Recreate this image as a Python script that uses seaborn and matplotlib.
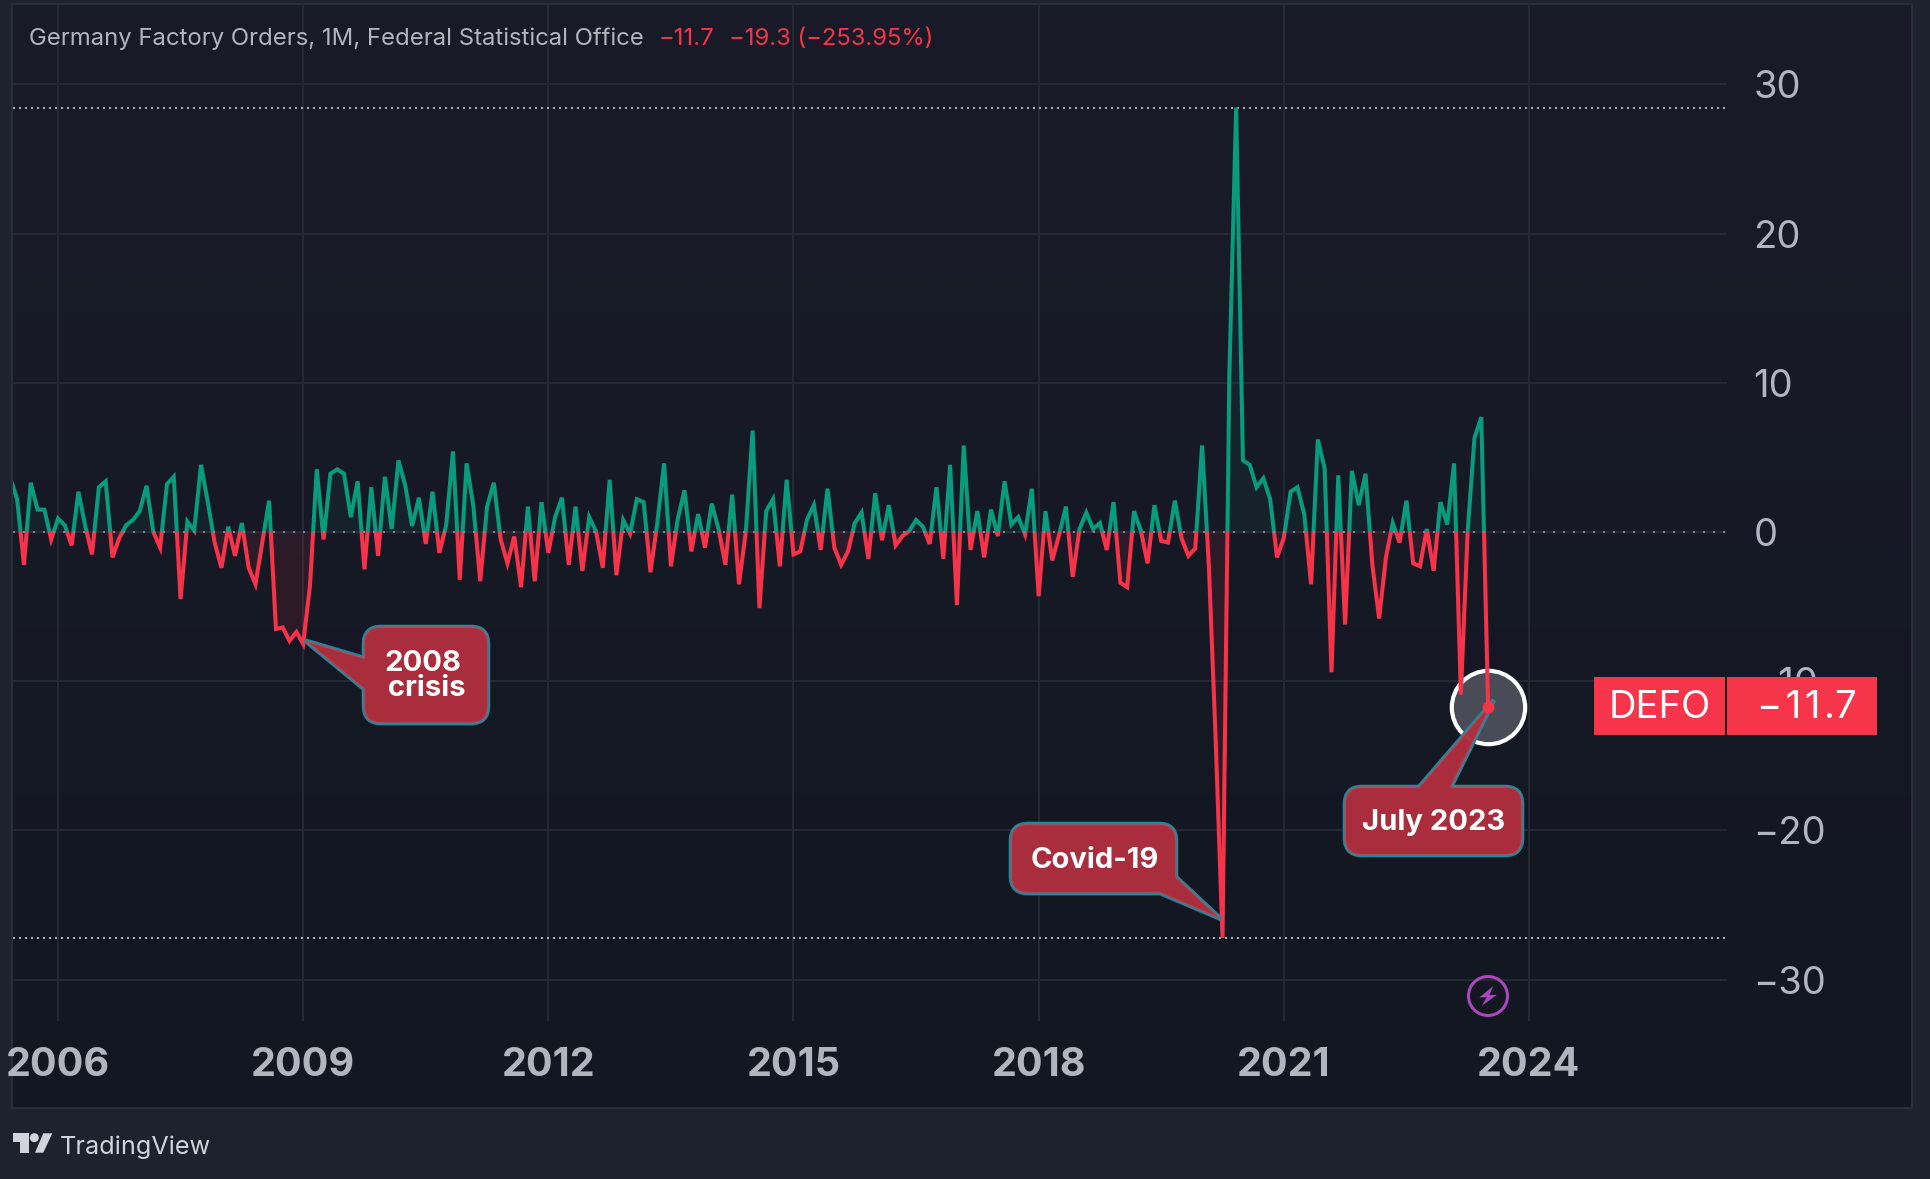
import numpy as np
import pandas as pd
import matplotlib
matplotlib.use("Agg")
import matplotlib.pyplot as plt
import seaborn as sns
from matplotlib.patches import Rectangle, Circle, PathPatch, Polygon
from matplotlib.path import Path
from matplotlib.transforms import Affine2D

W, H = 1931, 1179
sns.set_theme(style="dark")
plt.rcParams["font.family"] = ["Inter", "DejaVu Sans"]
plt.rcParams["lines.scale_dashes"] = False
plt.rcParams["axes.unicode_minus"] = True

# ---------- data (monthly, first value is Jun 2005) ----------
first_month = -7  # months relative to Jan 2006
values_2005 = [3.6, 2.2, -2.2, 3.3, 1.5, 1.5, -0.5]
values_2006 = [0.9, 0.45, -0.9, 2.7, 0.4, -1.5, 3.0, 3.4, -1.7, -0.4, 0.45, 0.8]
values_2007 = [1.4, 3.1, 0.0, -1.05, 3.2, 3.7, -4.5, 0.7, 0.1, 4.5, 2.0, -0.7]
values_2008 = [-2.4, 0.35, -1.6, 0.6, -2.4, -3.5, -0.7, 2.1, -6.5, -6.4, -7.3, -6.7]
values_2009 = [-7.5, -3.6, 4.2, -0.5, 3.9, 4.2, 3.9, 1.0, 3.4, -2.5, 3.0, -1.6]
values_2010 = [3.7, 0.2, 4.8, 3.1, 0.4, 2.3, -0.8, 2.7, -1.4, 0.45, 5.4, -3.2]
values_2011 = [4.6, 1.7, -3.3, 1.7, 3.3, -0.5, -2.1, -0.3, -3.7, 1.7, -3.3, 2.0]
values_2012 = [-1.4, 1.0, 2.3, -2.2, 1.7, -2.6, 1.0, 0.05, -2.4, 3.5, -2.9, 0.8]
values_2013 = [-0.1, 2.2, 2.0, -2.7, 0.6, 4.6, -2.3, 0.85, 2.8, -1.3, 1.2, -1.05]
values_2014 = [1.9, 0.2, -2.2, 2.5, -3.5, 0.0, 6.8, -5.1, 1.4, 2.2, -2.3, 3.5]
values_2015 = [-1.5, -1.3, 0.85, 1.8, -1.2, 2.9, -1.05, -2.2, -1.3, 0.6, 1.3, -1.8]
values_2016 = [2.6, -0.55, 1.8, -0.9, -0.27, 0.07, 0.8, 0.36, -0.8, 3.0, -1.8, 4.5]
values_2017 = [-4.9, 5.8, -1.2, 1.4, -1.7, 1.5, -0.27, 3.4, 0.5, 1.0, -0.15, 2.9]
values_2018 = [-4.3, 1.4, -1.9, -0.2, 1.7, -3.0, 0.2, 1.3, 0.2, 0.6, -1.2, 2.0]
values_2019 = [-3.4, -3.7, 1.4, 0.1, -2.1, 1.8, -0.6, -0.7, 2.1, -0.45, -1.6, -1.1]
values_2020 = [5.8, -2.3, -14.0, -27.2, 10.4, 28.45, 4.8, 4.5, 3.0, 3.6, 2.2, -1.7]
values_2021 = [-0.4, 2.7, 3.0, 1.2, -3.5, 6.2, 4.25, -9.4, 3.8, -6.2, 4.1, 1.8]
values_2022 = [3.9, -2.2, -5.8, -1.7, 0.6, -0.7, 2.1, -2.1, -2.3, 0.2, -2.6, 2.0]
values_2023 = [0.5, 4.6, -10.9, 0.05, 6.3, 7.7, -11.7]
year_ticks = [2006, 2009, 2012, 2015, 2018, 2021, 2024]
y_ticks = [-30, -20, -10, 0, 10, 20, 30]

values = (values_2005 + values_2006 + values_2007 + values_2008 + values_2009 +
          values_2010 + values_2011 + values_2012 + values_2013 + values_2014 +
          values_2015 + values_2016 + values_2017 + values_2018 + values_2019 +
          values_2020 + values_2021 + values_2022 + values_2023)
months = np.arange(len(values)) + first_month
df = pd.DataFrame({"month": months, "value": values})
last = df.iloc[-1]

# ---------- colours ----------
OUTER = "#1e222d"
RIM = "#2a2e39"
GRID = "#242833"
TXT = "#b2b5be"
RED = "#f7334a"
GREEN = "#099b7e"
TEAL = "#0c91a3"
BUBBLE = "#af2e3d"

fig = plt.figure(figsize=(W / 100, H / 100), dpi=100, facecolor=OUTER)
PX = Affine2D().scale(1, -1).translate(0, H)   # annotation layer in image pixels

# pane background with its faint vertical gradient
bg = fig.add_axes([12 / W, 1 - 1108 / H, 1900 / W, 1104 / H], zorder=0)
grad = np.array([[0x19, 0x1c, 0x28], [0x13, 0x17, 0x22]], dtype=float) / 255
bg.imshow(grad[:, None, :], aspect="auto", interpolation="bicubic", extent=[0, 1, 0, 1])
bg.set_xticks([]); bg.set_yticks([])
for s in bg.spines.values():
    s.set_color(RIM); s.set_linewidth(1.5)

# main axes
ax = fig.add_axes([13 / W, 1 - 1021 / H, (1727 - 13) / W, (1021 - 5) / H], zorder=1)
ax.patch.set_alpha(0)
x_left, x_right = (13 - 58) / 6.81, (1727 - 58) / 6.81
y_top, y_bottom = (532 - 5) / 14.92, -(1021 - 532) / 14.92
ax.set_xlim(x_left, x_right)
ax.set_ylim(y_bottom, y_top)

ax.set_xticks([(y - 2006) * 12 for y in year_ticks])
ax.set_xticklabels([str(y) for y in year_ticks], fontsize=28.5, fontweight="bold", color=TXT)
ax.set_yticks(y_ticks)
ax.set_yticklabels([str(t).replace("-", "\u2212") for t in y_ticks], fontsize=27.5, color=TXT)
ax.yaxis.tick_right()
ax.tick_params(axis="x", length=0, pad=19)
ax.tick_params(axis="y", length=0, pad=19)
ax.grid(True, color=GRID, linewidth=1.5)
ax.set_axisbelow(True)
for s in ax.spines.values():
    s.set_visible(False)

# baseline series: one line, split at zero through clip rectangles
clip_up = Rectangle((x_left, 0), x_right - x_left, y_top, transform=ax.transData)
clip_dn = Rectangle((x_left, y_bottom), x_right - x_left, -y_bottom, transform=ax.transData)

for colour, clip, alpha in [(GREEN, clip_up, 0.075), (RED, clip_dn, 0.10)]:
    band = ax.fill_between(df["month"], df["value"], 0, color=colour, alpha=alpha, linewidth=0, zorder=2)
    band.set_clip_path(clip)
    n = len(ax.lines)
    sns.lineplot(data=df, x="month", y="value", ax=ax, color=colour, linewidth=2.9,
                 estimator=None, sort=False, zorder=3)
    ln = ax.lines[n]
    ln.set_solid_joinstyle("miter")
    ln.set_solid_capstyle("butt")
    ln.set_clip_path(clip)
ax.set_xlabel(""); ax.set_ylabel("")

# dotted reference lines: zero, series high, series low
ax.axhline(0, color="#7d8494", linewidth=1.5, linestyle=(0, (1.44, 5.76)), zorder=4)
for level in (max(values), min(values)):
    ax.axhline(level, color="#a9adb8", linewidth=1.5, linestyle=(0, (1.44, 2.88)), zorder=2.6)

# highlighted last point
ax.scatter([last["month"]], [last["value"]], s=2 * (39 * 0.72) ** 2 * 1.77, facecolor="#494c56",
           edgecolor="white", linewidth=3, zorder=2.4, clip_on=False)
ax.scatter([last["month"]], [last["value"]], s=(12 * 0.72) ** 2, color=RED, linewidth=0, zorder=8)


def bubble(points, z=6):
    verts, codes = [], []
    n = len(points)
    for i, (x, y, r) in enumerate(points):
        if r == 0:
            verts.append((x, y)); codes.append(Path.MOVETO if i == 0 else Path.LINETO)
            continue
        px, py, _ = points[i - 1]
        nx, ny, _ = points[(i + 1) % n]
        d0 = np.hypot(px - x, py - y); d1 = np.hypot(nx - x, ny - y)
        a = (x + (px - x) * r / d0, y + (py - y) * r / d0)
        b = (x + (nx - x) * r / d1, y + (ny - y) * r / d1)
        verts += [a, (x, y), b]
        codes += [Path.MOVETO if i == 0 else Path.LINETO, Path.CURVE3, Path.CURVE3]
    verts.append(verts[0]); codes.append(Path.CLOSEPOLY)
    path = Path(verts, codes)
    ax.add_patch(PathPatch(path, transform=PX, facecolor="none", edgecolor=TEAL, lw=3.3,
                           joinstyle="miter", clip_on=False, zorder=z))
    ax.add_patch(PathPatch(path, transform=PX, facecolor=BUBBLE, edgecolor="#94596b", lw=1.2,
                           alpha=0.97, joinstyle="miter", clip_on=False, zorder=z + 0.1))


R = 17
bubble([(364, 627, R), (488, 627, R), (488, 723, R), (364, 723, R), (364, 689, 0), (305, 640.5, 0), (364, 658, 0)])
bubble([(1011, 824, R), (1176, 824, R), (1176, 877, 0), (1221, 919, 0), (1160, 893, 0), (1011, 893, R)])
bubble([(1345, 787, R), (1419, 787, 0), (1494, 700, 0), (1451, 787, 0), (1522, 787, R), (1522, 855, R), (1345, 855, R)])

bubble_font = dict(transform=PX, color="white", fontsize=21, fontweight="bold", ha="center",
                   va="center", zorder=7, clip_on=False)
ax.text(423, 676, "2008\n crisis", linespacing=0.9, **bubble_font)
ax.text(1095, 861, "Covid-19", **bubble_font)
ax.text(1434, 823, "July 2023", **bubble_font)

# last-value tag on the price scale
ax.add_patch(Rectangle((1594, 677), 283, 58, transform=PX, facecolor="#f7354a", edgecolor="none",
                       clip_on=False, zorder=9))
ax.add_patch(Rectangle((1725, 677), 1.5, 58, transform=PX, facecolor="#131722", edgecolor="none",
                       clip_on=False, zorder=9.1))
ax.text(1660, 708, "DEFO", transform=PX, color="white", fontsize=27.5, ha="center", va="center",
        zorder=10, clip_on=False)
ax.text(1807, 708, "\u2212\u200a1\u200a1\u200a.7", transform=PX, color="white", fontsize=27.5, ha="center", va="center",
        zorder=10, clip_on=False)

# legend line
ax.text(29, 39, "Germany Factory Orders, 1M, Federal Statistical Office", transform=PX, color=TXT,
        fontsize=17.2, ha="left", va="center", zorder=10)
ax.text(659, 39, "\u221211.7", transform=PX, color=RED, fontsize=17.2, ha="left", va="center", zorder=10)
ax.text(729, 39, "\u221219.3 (\u2212253.95%)", transform=PX, color=RED, fontsize=17.2, ha="left", va="center", zorder=10)

# lightning marker
ax.add_patch(Circle((1488, 996), 19.5, transform=PX, facecolor="none", edgecolor="#ab47bc", lw=2.2,
                    clip_on=False, zorder=5))
bolt = [(160, 198), (118, 232), (140, 232), (125, 258), (170, 225), (148, 225)]
ax.add_patch(Polygon([(1440 + a / 3, 920 + b / 3) for a, b in bolt], transform=PX, facecolor="#ab47bc",
                     edgecolor="none", clip_on=False, zorder=5))

# TradingView logo
LOGO = "#d1d4dc"
fa = fig.add_axes([0, 0, 1, 1], zorder=2)
fa.axis("off")
fa.patch.set_alpha(0)
fa.add_patch(Polygon([(12.7, 1133.3), (29.3, 1133.3), (29.3, 1152.7), (20, 1152.7), (20, 1141.7), (12.7, 1141.7)],
                     transform=PX, facecolor=LOGO, edgecolor="none"))
fa.add_patch(Circle((34.3, 1137.7), 4.5, transform=PX, facecolor=LOGO, edgecolor="none"))
fa.add_patch(Polygon([(43.3, 1133.3), (52.3, 1133.3), (43.3, 1152.7), (35, 1152.7)], transform=PX,
                     facecolor=LOGO, edgecolor="none"))
fa.text(59.5, 1147, "TradingView", transform=PX, color=LOGO, fontsize=18.2, ha="left", va="center")

fig.savefig("out.png", dpi=100, facecolor=OUTER)
